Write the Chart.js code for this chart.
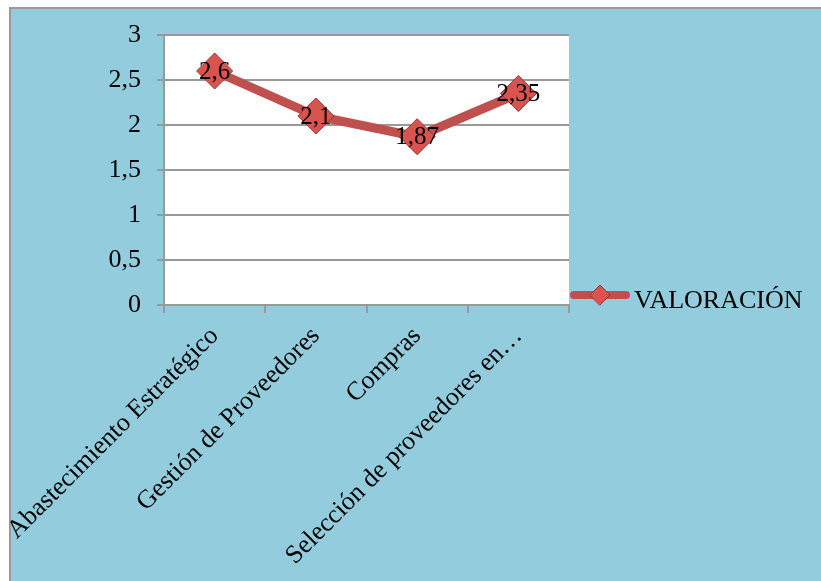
<!DOCTYPE html>
<html><head><meta charset="utf-8">
<script src="https://cdn.jsdelivr.net/npm/chart.js@4"></script>
<style>
html,body{margin:0;padding:0;background:#fff;width:821px;height:581px;overflow:hidden}
#frame{position:absolute;left:9px;top:7px;width:840px;height:600px;background:#93CDDD;border-left:2px solid #9a9a9a;border-top:2px solid #9a9a9a}
#wrap{position:absolute;left:0;top:0;width:821px;height:581px}
</style></head><body>
<div id="frame"></div>
<div id="wrap"><canvas id="c"></canvas></div>
<script>
const categories = ['Abastecimiento Estratégico', 'Gestión de Proveedores', 'Compras', 'Selección de proveedores en…'];
const seriesName = 'VALORACIÓN';
const values = [2.6, 2.1, 1.87, 2.35];
const yMin = 0, yMax = 3, yStep = 0.5;

const FONT = "'Times New Roman', 'Liberation Serif', Tinos, 'DejaVu Serif', serif";
const RED = '#C0504D';
const fmt = v => String(v).replace('.', ',');

const plotBg = {
  id: 'plotBg',
  beforeDraw(chart) {
    const {ctx, chartArea: a} = chart;
    ctx.save();
    ctx.fillStyle = '#ffffff';
    ctx.fillRect(a.left, a.top, a.right - a.left, a.bottom - a.top);
    ctx.restore();
  }
};

const dataLabels = {
  id: 'dataLabels',
  afterDatasetsDraw(chart) {
    const {ctx} = chart;
    const meta = chart.getDatasetMeta(0);
    ctx.save();
    ctx.font = '25px ' + FONT;
    ctx.fillStyle = '#000';
    ctx.textAlign = 'center';
    ctx.textBaseline = 'middle';
    meta.data.forEach((pt, i) => {
      ctx.fillText(fmt(chart.data.datasets[0].data[i]), pt.x, pt.y + 1);
    });
    ctx.restore();
  }
};

const legendLine = {
  id: 'legendLine',
  afterDraw(chart) {
    const {ctx, chartArea: a} = chart;
    const y = a.bottom - 10;
    const x0 = a.right + 1, x1 = a.right + 61;
    ctx.save();
    ctx.strokeStyle = RED;
    ctx.lineWidth = 8;
    ctx.lineCap = 'round';
    ctx.beginPath(); ctx.moveTo(x0 + 4, y); ctx.lineTo(x1 - 4, y); ctx.stroke();
    const cx = (x0 + x1) / 2, r = 10;
    ctx.fillStyle = '#D9534F';
    ctx.strokeStyle = '#9E3431';
    ctx.lineWidth = 1;
    ctx.beginPath();
    ctx.moveTo(cx - r, y); ctx.lineTo(cx, y - r); ctx.lineTo(cx + r, y); ctx.lineTo(cx, y + r); ctx.closePath();
    ctx.fill(); ctx.stroke();
    ctx.font = '26px ' + FONT;
    ctx.fillStyle = '#000';
    ctx.textAlign = 'left';
    ctx.textBaseline = 'alphabetic';
    ctx.fillText(chart.data.datasets[0].label, x1 + 4, y + 13);
    ctx.restore();
  }
};

new Chart(document.getElementById('c'), {
  type: 'line',
  data: {
    labels: categories,
    datasets: [{
      label: seriesName,
      data: values,
      borderColor: RED,
      borderWidth: 9,
      pointStyle: 'rectRot',
      pointRadius: 18,
      pointHoverRadius: 18,
      pointBackgroundColor: '#D9534F',
      pointBorderColor: '#9E3431',
      pointBorderWidth: 1,
      tension: 0,
      fill: false
    }]
  },
  options: {
    responsive: true,
    maintainAspectRatio: false,
    animation: false,
    events: [],
    layout: {padding: {left: 0, top: 35, right: 252, bottom: 0}},
    plugins: {legend: {display: false}, tooltip: {enabled: false}},
    scales: {
      x: {
        offset: true,
        grid: {offset: true, drawOnChartArea: false, drawTicks: true, tickLength: 8, color: '#999', lineWidth: 2},
        border: {display: true, color: '#999', width: 2},
        ticks: {
          autoSkip: false, minRotation: 45, maxRotation: 45, padding: 8,
          color: '#000', font: {family: FONT, size: 26}
        },
        afterFit(scale) { scale.height = 581 - 305; scale.paddingLeft = 0; scale.paddingRight = 0; }
      },
      y: {
        min: yMin, max: yMax,
        grid: {color: '#999', lineWidth: 2, tickLength: 7, drawTicks: true},
        border: {display: true, color: '#999', width: 2},
        ticks: {
          stepSize: yStep, padding: 16, color: '#000',
          font: {family: FONT, size: 26},
          callback: v => fmt(v)
        },
        afterFit(scale) { scale.width = 164; }
      }
    }
  },
  plugins: [plotBg, dataLabels, legendLine]
});
</script>
</body></html>
